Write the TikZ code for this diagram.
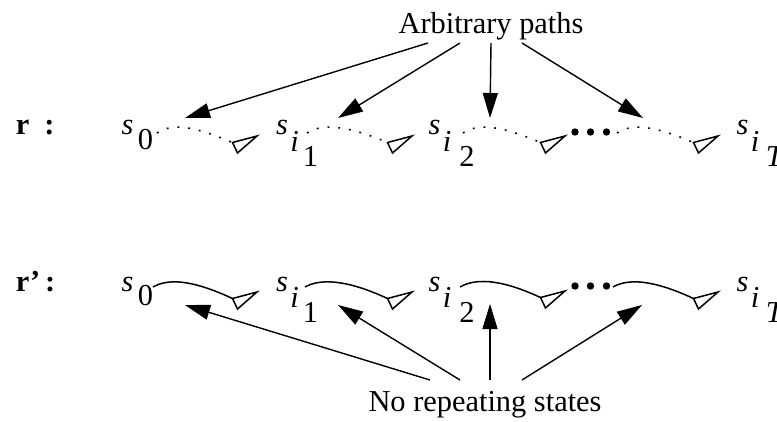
\documentclass[tikz,border=0pt]{standalone}
\usepackage{fontspec}
\setmainfont{Liberation Serif}
\usetikzlibrary{arrows.meta}
\newcommand{\stzero}{\textit{s}\hspace{4.5pt}\raisebox{-14.5pt}{0}}
\newcommand{\stsub}[2]{\textit{s}\hspace{2.5pt}\raisebox{-16.5pt}{\textit{i}}\hspace{#1}\raisebox{-31.5pt}{#2}}
\tikzset{
  lab/.style={inner sep=0pt,outer sep=0pt,font=\fontsize{30.4}{36}\selectfont},
  shaft/.style={line width=1.4pt,-{Triangle[length=25pt,width=15pt]}},
  dotpath/.style={line width=1.6pt,dash pattern=on 1.8pt off 9pt},
  solidpath/.style={line width=1.5pt},
  opentri/.pic={\draw[line width=1.5pt,line join=miter] (0,0) -- (-24.5,6.5) -- (-19.5,17) -- cycle;},
  bigdot/.style={fill=black}
}
\begin{document}
\begin{tikzpicture}[x=1pt,y=-1pt]
\useasboundingbox (0,0) rectangle (777,421);

% labels
\node[lab,anchor=base] (ap) at (491,33) {Arbitrary paths};
\node[lab,anchor=base] (nr) at (485,411.5) {No repeating states};
\node[lab,anchor=base west] (rl) at (16,134.5) {\textbf{r\hspace{15pt}:}};
\node[lab,anchor=base west] (rpl) at (16,291) {\textbf{r’\hspace{5pt}:}};

% top row states
\node[lab,anchor=base west] (a0) at (121.5,134.5) {\stzero};
\node[lab,anchor=base west] (a1) at (276,134.5) {\stsub{4pt}{1}};
\node[lab,anchor=base west] (a2) at (428.5,134.5) {\stsub{8pt}{2}};
\node[lab,anchor=base west] (aT) at (736.5,134.5) {\stsub{6.5pt}{\textit{T}}};

% bottom row states
\node[lab,anchor=base west] (b0) at (121.5,291) {\stzero};
\node[lab,anchor=base west] (b1) at (276,291) {\stsub{4pt}{1}};
\node[lab,anchor=base west] (b2) at (428.5,291) {\stsub{8pt}{2}};
\node[lab,anchor=base west] (bT) at (736.5,291) {\stsub{6.5pt}{\textit{T}}};

% top path coordinates
\coordinate (ts1) at (157,133);  \coordinate (tt1) at (257,136);
\coordinate (ts2) at (307,133);  \coordinate (tt2) at (412,136);
\coordinate (ts3) at (463,133);  \coordinate (tt3) at (565,136);
\coordinate (ts4) at (617,133);  \coordinate (tt4) at (718,136);
% bottom path coordinates
\coordinate (bs1) at (153,287);  \coordinate (bt1) at (257,292);
\coordinate (bs2) at (305,287);  \coordinate (bt2) at (412,292);
\coordinate (bs3) at (460,287);  \coordinate (bt3) at (565,291);
\coordinate (bs4) at (613,287);  \coordinate (bt4) at (718,292);

% dotted (top) and solid (bottom) paths
\foreach \k in {1,2,3,4}{
  \draw[dotpath] (ts\k) .. controls +(15,-10) and +(-40,-17) .. ([shift={(-24.5,6.5)}]tt\k);
  \pic at (tt\k) {opentri};
  \draw[solidpath] (bs\k) .. controls +(14,-8) and +(-43,-20) .. ([shift={(-24.5,6.5)}]bt\k);
  \pic at (bt\k) {opentri};
}

% ellipsis dots
\foreach \x in {575,590.5,606.5}{
  \fill[bigdot] (\x,132) circle[radius=3.7pt];
  \fill[bigdot] (\x,286) circle[radius=3.7pt];
}

% arrow targets
\coordinate (pk1) at (185,118); \coordinate (pk2) at (338,118);
\coordinate (pk3) at (490,118); \coordinate (pk4) at (643,118);
\coordinate (qk1) at (185,305); \coordinate (qk2) at (338,305);
\coordinate (qk3) at (490,304); \coordinate (qk4) at (642,305);

% arrows from Arbitrary paths
\draw[shaft] ([shift={(-63,10)}]ap.base) -- (pk1);
\draw[shaft] ([shift={(-31,10)}]ap.base) -- (pk2);
\draw[shaft] ([shift={(0,10)}]ap.base) -- (pk3);
\draw[shaft] ([shift={(31,10)}]ap.base) -- (pk4);

% arrows from No repeating states
\draw[shaft] ([shift={(-55,-31.5)}]nr.base) -- (qk1);
\draw[shaft] ([shift={(-25,-31.5)}]nr.base) -- (qk2);
\draw[shaft] ([shift={(5,-31.5)}]nr.base) -- (qk3);
\draw[shaft] ([shift={(37,-31.5)}]nr.base) -- (qk4);
\end{tikzpicture}
\end{document}
